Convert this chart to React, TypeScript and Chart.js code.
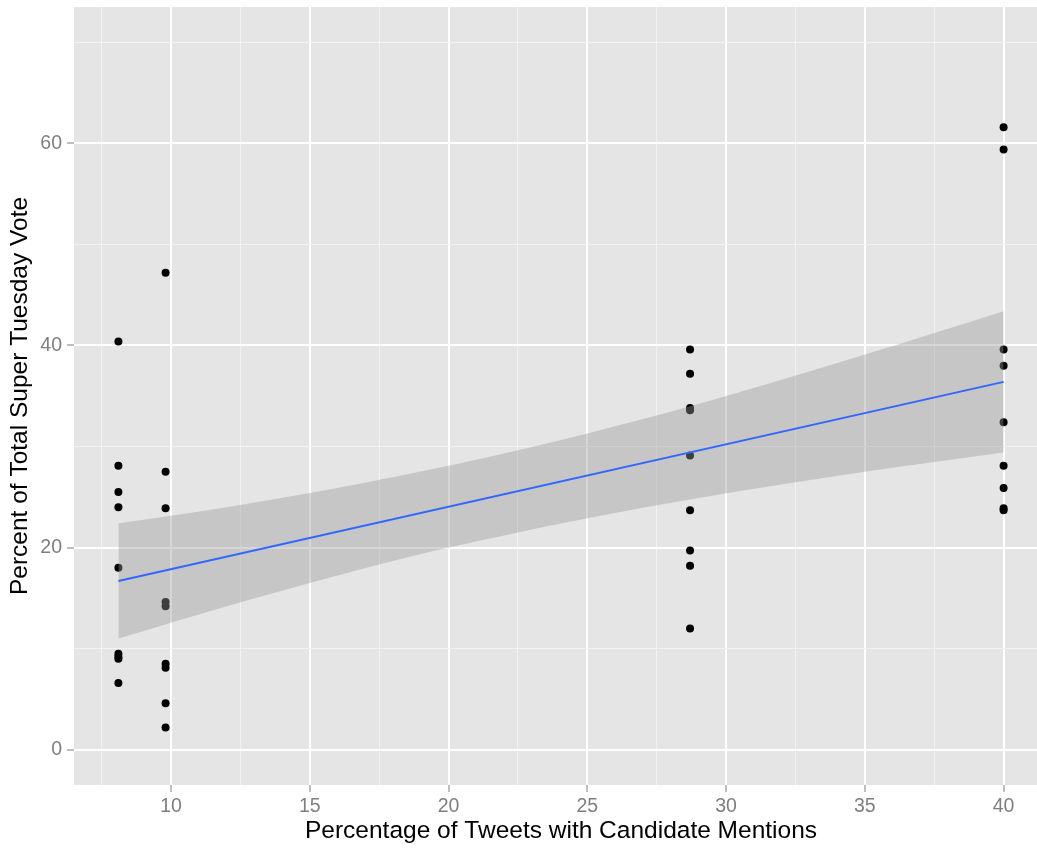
import React, { useEffect, useRef } from 'react';
import { Chart, registerables } from 'chart.js';

Chart.register(...registerables);

const FONT = "'Liberation Sans', Arial, Helvetica, sans-serif";

const xTitle = 'Percentage of Tweets with Candidate Mentions';
const yTitle = 'Percent of Total Super Tuesday Vote';

// axis ticks (majors are labelled, minors give the faint grid lines)
const xTickValues = [7.5, 10, 12.5, 15, 17.5, 20, 22.5, 25, 27.5, 30, 32.5, 35, 37.5, 40];
const yTickValues = [0, 10, 20, 30, 40, 50, 60, 70];
const xMajorStep = 5;
const yMajorStep = 20;
const xMin = 6.5;
const xMax = 41.6;
const yMin = -3.5;
const yMax = 73.5;

// share of tweets for each candidate, and the vote share per state
const tweetShare = [8.1, 9.8, 28.7, 40];
const votesGroup1 = [40.4, 28.1, 25.5, 24.0, 18.0, 9.5, 9.2, 9.0, 6.6];
const votesGroup2 = [47.2, 27.5, 23.9, 14.6, 14.2, 8.5, 8.1, 4.6, 2.2];
const votesGroup3 = [39.6, 37.2, 33.8, 33.6, 29.1, 23.7, 19.7, 18.2, 12.0];
const votesGroup4 = [61.6, 59.4, 39.6, 38.0, 32.4, 28.1, 25.9, 23.9, 23.7];

// linear fit and its confidence band
const fitX = [8.1, 40];
const fitY = [16.7, 36.4];
const bandX = [8.1, 12, 15, 18.6, 22, 25, 29, 35, 40];
const bandUpper = [22.4, 24.0, 25.4, 27.3, 29.3, 31.3, 34.2, 39.1, 43.4];
const bandLower = [11.0, 14.2, 16.5, 19.1, 21.2, 22.9, 24.9, 27.5, 29.4];

const CANVAS_W = 1060;
const CANVAS_H = 852;

const panelBg = {
  id: 'panelBg',
  beforeDraw(chart: any) {
    const { ctx, chartArea } = chart;
    ctx.save();
    ctx.fillStyle = '#E5E5E5';
    ctx.fillRect(chartArea.left, chartArea.top, chartArea.right - chartArea.left, chartArea.bottom - chartArea.top);
    ctx.restore();
  },
};

export default function App() {
  const ref = useRef<HTMLCanvasElement | null>(null);

  useEffect(() => {
    if (!ref.current) return;
    const groups = [votesGroup1, votesGroup2, votesGroup3, votesGroup4];
    const points: { x: number; y: number }[] = [];
    groups.forEach((g, gi) => g.forEach((v) => points.push({ x: tweetShare[gi], y: v })));

    const isMajor = (v: number, step: number) => Math.abs(v / step - Math.round(v / step)) < 1e-9;

    const chart = new Chart(ref.current, {
      type: 'scatter',
      data: {
        datasets: [
          {
            type: 'scatter',
            data: points,
            backgroundColor: '#000000',
            borderWidth: 0,
            pointRadius: 4,
            order: 3,
          } as any,
          {
            type: 'line',
            data: bandX.map((x, i) => ({ x, y: bandUpper[i] })),
            borderColor: 'rgba(0,0,0,0)',
            borderWidth: 0,
            pointRadius: 0,
            fill: '+1',
            backgroundColor: 'rgba(153,153,153,0.4)',
            cubicInterpolationMode: 'monotone',
            order: 2,
          } as any,
          {
            type: 'line',
            data: bandX.map((x, i) => ({ x, y: bandLower[i] })),
            borderColor: 'rgba(0,0,0,0)',
            borderWidth: 0,
            pointRadius: 0,
            fill: false,
            cubicInterpolationMode: 'monotone',
            order: 2,
          } as any,
          {
            type: 'line',
            data: fitX.map((x, i) => ({ x, y: fitY[i] })),
            borderColor: '#3366FF',
            borderWidth: 2,
            pointRadius: 0,
            fill: false,
            order: 1,
          } as any,
        ],
      },
      options: {
        animation: false,
        responsive: false,
        layout: { padding: { left: 0, top: 7, right: 12, bottom: 0 } },
        plugins: {
          legend: { display: false },
          tooltip: { enabled: false },
        },
        scales: {
          x: {
            type: 'linear',
            min: xMin,
            max: xMax,
            afterBuildTicks: (s: any) => {
              s.ticks = xTickValues.map((v) => ({ value: v }));
            },
            afterFit: (s: any) => {
              s.height = 67;
              s.paddingLeft = 0;
              s.paddingRight = 0;
            },
            ticks: {
              autoSkip: false,
              maxRotation: 0,
              padding: 3,
              color: '#7F7F7F',
              font: { family: FONT, size: 19.5 },
              callback: (v: any) => (isMajor(Number(v), xMajorStep) ? String(v) : ''),
            },
            grid: {
              color: (c: any) => (isMajor(c.tick.value, xMajorStep) ? '#FFFFFF' : '#F2F2F2'),
              lineWidth: (c: any) => (isMajor(c.tick.value, xMajorStep) ? 2 : 1),
              tickColor: (c: any) => (isMajor(c.tick.value, xMajorStep) ? '#7F7F7F' : 'rgba(0,0,0,0)'),
              tickLength: 7,
              tickWidth: 1,
            },
            border: { display: false },
            title: {
              display: true,
              text: xTitle,
              color: '#000000',
              font: { family: FONT, size: 24.5 },
              padding: { top: 0, bottom: 6 },
            },
          } as any,
          y: {
            type: 'linear',
            min: yMin,
            max: yMax,
            afterBuildTicks: (s: any) => {
              s.ticks = yTickValues.map((v) => ({ value: v }));
            },
            afterFit: (s: any) => {
              s.width = 74;
              s.paddingTop = 0;
              s.paddingBottom = 0;
            },
            ticks: {
              autoSkip: false,
              padding: 5,
              color: '#7F7F7F',
              font: { family: FONT, size: 19.5 },
              callback: (v: any) => (isMajor(Number(v), yMajorStep) ? String(v) : ''),
            },
            grid: {
              color: (c: any) => (isMajor(c.tick.value, yMajorStep) ? '#FFFFFF' : '#F2F2F2'),
              lineWidth: (c: any) => (isMajor(c.tick.value, yMajorStep) ? 2 : 1),
              tickColor: (c: any) => (isMajor(c.tick.value, yMajorStep) ? '#7F7F7F' : 'rgba(0,0,0,0)'),
              tickLength: 7,
              tickWidth: 1,
            },
            border: { display: false },
            title: {
              display: true,
              text: yTitle,
              color: '#000000',
              font: { family: FONT, size: 24.5 },
              padding: { top: 6, bottom: 0 },
            },
          } as any,
        },
      },
      plugins: [panelBg],
    } as any);

    return () => chart.destroy();
  }, []);

  return (
    <div
      style={{
        position: 'fixed',
        left: 0,
        top: 0,
        width: 1037,
        height: 852,
        overflow: 'hidden',
        background: '#FFFFFF',
      }}
    >
      <canvas ref={ref} width={CANVAS_W} height={CANVAS_H} style={{ display: 'block', width: CANVAS_W, height: CANVAS_H }} />
    </div>
  );
}
